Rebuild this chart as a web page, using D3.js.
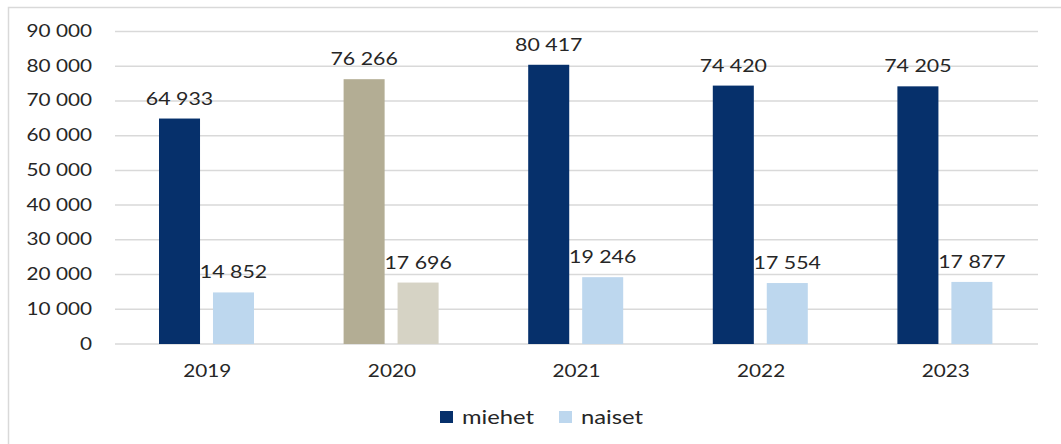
<!DOCTYPE html>
<html>
<head>
<meta charset="utf-8">
<script src="https://cdn.jsdelivr.net/npm/d3@7"></script>
<style>
  html, body { margin: 0; padding: 0; background: #fff; }
  svg text { font-family: Lato, "Open Sans", sans-serif; fill: #262626; }
</style>
</head>
<body>
<svg id="chart" width="1061" height="444"></svg>
<script>
// chart data
const years = ['2019', '2020', '2021', '2022', '2023'];
const series = ['miehet', 'naiset'];
const miehet = [64933, 76266, 80417, 74420, 74205];
const naiset = [14852, 17696, 19246, 17554, 17877];
const yTicks = [0, 10000, 20000, 30000, 40000, 50000, 60000, 70000, 80000, 90000];
const highlightYear = '2020';

const colors = { miehet: '#06306b', naiset: '#bdd7ee' };
const highlightColors = { miehet: '#b3ad94', naiset: '#d6d3c5' };

const svg = d3.select('#chart');
const stretch = 1.22; // source text is drawn wider than it is tall

// format like "64 933"
const fmt = v => d3.format(',')(v).replace(/,/g, ' ');

function stretchedText(g, x, y, str, anchor, size) {
    g.append('g')
        .attr('transform', `translate(${x},${y}) scale(${stretch},1)`)
        .append('text')
        .attr('text-anchor', anchor)
        .style('font-size', (size || 17) + 'px')
        .text(str);
}

// frame
svg.append('rect')
    .attr('x', 8.5).attr('y', 7.5)
    .attr('width', 1070).attr('height', 460)
    .attr('fill', 'none')
    .attr('stroke', '#d9d9d9')
    .attr('stroke-width', 1.5);

const x0 = d3.scaleBand().domain(years).range([115, 1038]);
const x1 = d3.scaleBand().domain(series).range([44, 139]).paddingInner(0.24);
const y = d3.scaleLinear().domain([0, 90000]).range([344, 31.5]);

// gridlines
svg.append('g').selectAll('line')
    .data(yTicks)
    .enter().append('line')
    .attr('x1', 115).attr('x2', 1038)
    .attr('y1', d => y(d)).attr('y2', d => y(d))
    .attr('stroke', '#d9d9d9')
    .attr('stroke-width', 1.5);

// y tick labels
const yLab = svg.append('g');
yTicks.forEach(t => stretchedText(yLab, 92, y(t) + 5.5, fmt(t), 'end'));

// bars + value labels
const rows = years.map((yr, i) => ({ year: yr, miehet: miehet[i], naiset: naiset[i] }));
const groups = svg.append('g').selectAll('g')
    .data(rows)
    .enter().append('g')
    .attr('transform', d => `translate(${x0(d.year)},0)`);

groups.selectAll('rect')
    .data(d => series.map(s => ({ key: s, value: d[s], year: d.year })))
    .enter().append('rect')
    .attr('x', d => x1(d.key))
    .attr('width', x1.bandwidth())
    .attr('y', d => y(d.value))
    .attr('height', d => y(0) - y(d.value))
    .attr('fill', d => (d.year === highlightYear ? highlightColors : colors)[d.key]);

const valLab = svg.append('g');
rows.forEach(r => {
    series.forEach(s => {
        const cx = x0(r.year) + x1(s) + x1.bandwidth() / 2;
        stretchedText(valLab, cx, y(r[s]) - 14, fmt(r[s]), 'middle', 17.5);
    });
});

// x labels
const xLab = svg.append('g');
years.forEach(yr => stretchedText(xLab, x0(yr) + x0.bandwidth() / 2, 377, yr, 'middle'));

// legend
const legendPos = { miehet: 440, naiset: 559 };
const legend = svg.append('g');
series.forEach(s => {
    legend.append('rect')
        .attr('x', legendPos[s]).attr('y', 411)
        .attr('width', 13).attr('height', 12)
        .attr('fill', colors[s]);
    stretchedText(legend, legendPos[s] + 22, 423.5, s, 'start', 19.5);
});
</script>
</body>
</html>
